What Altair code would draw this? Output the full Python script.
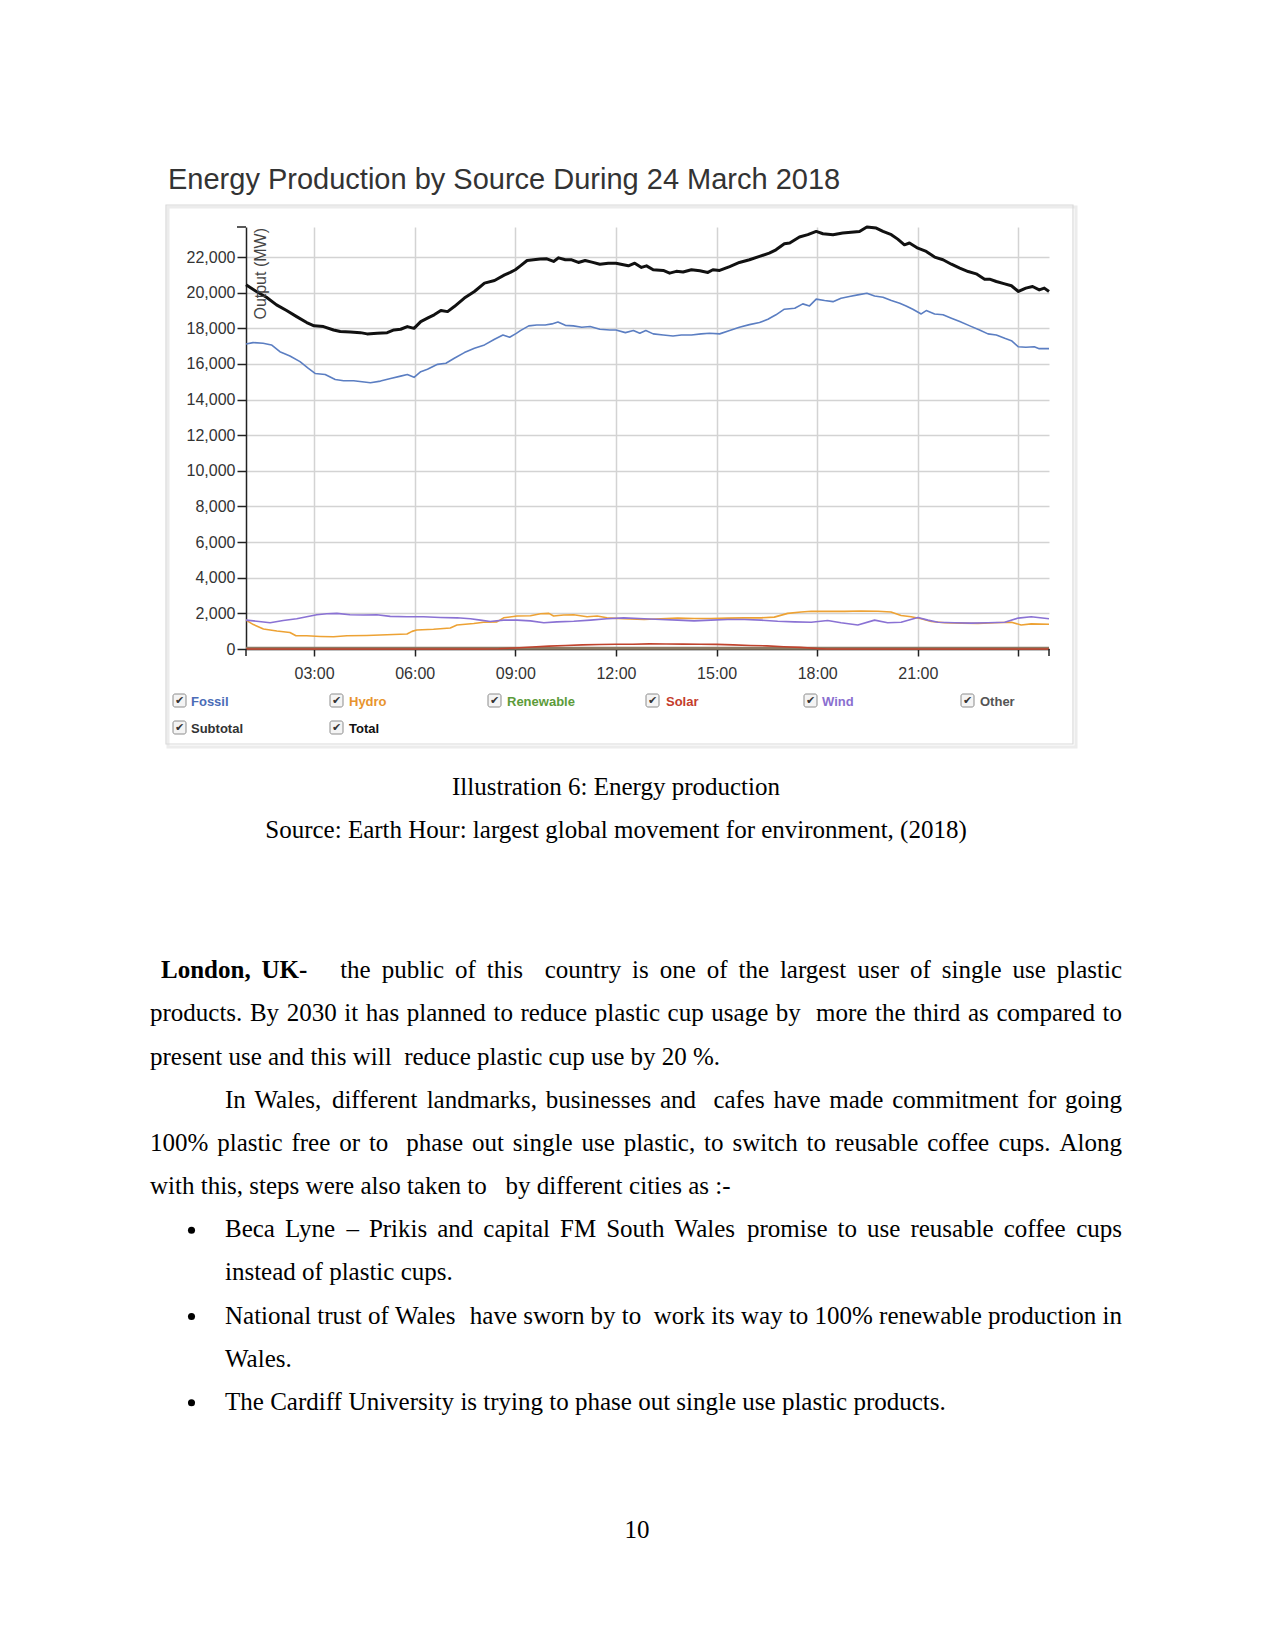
import altair as alt
import pandas as pd

# ------------------------------------------------------------------ data
total_h = [0.97,1.28,1.58,1.88,2.18,2.48,2.78,3.00,3.28,3.58,3.78,4.08,4.38,4.58,4.88,5.18,5.38,5.58,5.78,5.98,6.18,6.38,6.58,6.78,6.98,7.18,7.48,7.78,8.08,8.38,8.68,8.85,9.00,9.15,9.35,9.54,9.74,9.94,10.14,10.29,10.49,10.68,10.88,11.08,11.28,11.52,11.77,12.00,12.22,12.37,12.56,12.76,12.91,13.11,13.41,13.60,13.80,14.00,14.25,14.50,14.74,14.89,15.09,15.39,15.68,15.98,16.28,16.57,16.77,17.02,17.18,17.47,17.72,17.97,18.17,18.47,18.76,19.01,19.26,19.48,19.76,19.96,20.21,20.40,20.60,20.75,21.00,21.25,21.50,21.75,22.00,22.25,22.50,22.74,22.99,23.14,23.34,23.59,23.79,24.00,24.22,24.42,24.62,24.77,24.91]
total_v = [20444,20070,19750,19320,19000,18660,18325,18140,18100,17910,17820,17800,17760,17690,17725,17760,17910,17950,18100,18000,18380,18570,18760,19000,18940,19225,19700,20070,20540,20690,21000,21140,21290,21510,21810,21850,21890,21905,21755,21960,21850,21850,21700,21810,21720,21600,21660,21660,21570,21510,21660,21420,21510,21290,21250,21100,21200,21160,21290,21230,21140,21290,21250,21470,21700,21850,22040,22220,22410,22750,22790,23125,23260,23440,23310,23260,23350,23400,23440,23690,23630,23440,23260,23010,22690,22790,22500,22320,22000,21850,21600,21380,21190,21060,20760,20760,20630,20500,20390,20070,20260,20350,20160,20260,20070]

fossil_h = [0.97,1.18,1.48,1.73,1.98,2.28,2.58,2.83,3.03,3.33,3.63,3.88,4.18,4.43,4.68,4.98,5.28,5.58,5.78,5.98,6.18,6.38,6.68,6.93,7.18,7.48,7.78,8.08,8.38,8.63,8.83,9.03,9.15,9.40,9.64,9.89,10.09,10.27,10.49,10.73,10.98,11.23,11.52,11.82,12.00,12.28,12.52,12.71,12.89,13.11,13.41,13.70,13.95,14.25,14.54,14.79,15.09,15.39,15.68,15.98,16.28,16.53,16.77,17.02,17.33,17.57,17.77,17.97,18.22,18.47,18.71,18.96,19.21,19.48,19.71,19.96,20.21,20.46,20.65,20.85,21.10,21.25,21.50,21.75,22.00,22.25,22.55,22.84,23.09,23.34,23.59,23.79,23.99,24.22,24.47,24.62,24.91]
fossil_v = [17125,17200,17160,17070,16690,16450,16130,15750,15470,15410,15130,15060,15060,15000,14950,15040,15190,15320,15410,15250,15570,15700,15980,16040,16320,16640,16880,17070,17390,17630,17500,17720,17875,18140,18190,18190,18250,18360,18170,18140,18060,18100,17950,17910,17910,17760,17875,17725,17875,17690,17630,17575,17630,17630,17690,17725,17690,17875,18060,18210,18325,18510,18760,19075,19130,19375,19260,19640,19560,19500,19690,19790,19880,19975,19820,19750,19560,19410,19260,19075,18810,19000,18810,18760,18570,18380,18140,17910,17690,17630,17440,17310,16970,16940,16970,16860,16860]

wind_h = [0.97,1.29,1.69,2.08,2.48,2.78,3.08,3.38,3.68,4.07,4.47,4.87,5.27,5.77,6.26,6.76,7.26,7.66,7.96,8.25,8.65,9.05,9.45,9.85,10.24,10.74,11.24,11.73,12.23,12.84,13.34,13.84,14.33,14.83,15.33,15.83,16.33,16.82,17.32,17.82,18.31,18.71,19.21,19.71,20.10,20.50,21.00,21.30,21.60,22.09,22.59,23.09,23.59,23.99,24.38,24.91]
wind_v = [1620,1560,1470,1600,1695,1810,1925,1980,2000,1925,1905,1925,1830,1810,1810,1770,1750,1695,1620,1545,1620,1620,1580,1470,1525,1560,1620,1695,1750,1695,1660,1620,1580,1620,1660,1660,1620,1560,1525,1505,1600,1470,1350,1620,1470,1505,1770,1620,1505,1470,1450,1470,1505,1735,1810,1695]

hydro_h = [0.97,1.19,1.49,1.89,2.28,2.46,2.78,3.18,3.58,3.98,4.57,5.17,5.77,5.92,6.06,6.56,7.06,7.26,7.76,8.05,8.45,8.65,9.05,9.45,9.75,10.00,10.14,10.44,10.74,11.14,11.44,11.73,12.23,12.84,13.34,13.84,14.33,14.83,15.33,15.83,16.33,16.72,17.12,17.52,17.82,18.31,18.81,19.31,19.81,20.20,20.50,20.80,21.10,21.40,21.80,22.29,22.79,23.29,23.79,24.08,24.38,24.91]
hydro_v = [1620,1370,1125,1010,930,740,740,705,685,740,760,800,840,990,1065,1105,1180,1350,1430,1505,1525,1750,1850,1865,1980,2000,1850,1905,1925,1810,1850,1750,1695,1660,1695,1735,1715,1715,1735,1750,1750,1790,2000,2080,2115,2115,2115,2135,2115,2080,1885,1810,1695,1545,1470,1450,1430,1470,1505,1350,1410,1390]

solar_h = [0.97,8.0,8.5,9.0,9.5,10.0,10.5,11.0,11.5,12.0,12.5,13.0,13.5,14.0,14.5,15.0,15.5,16.0,16.5,17.0,17.5,18.0,18.3,24.91]
solar_v = [0,0,10,60,110,160,200,230,250,265,270,285,280,275,270,260,230,200,175,130,90,30,0,0]

other_h = [0.97,6.0,12.0,18.0,24.91]
other_v = [40,40,40,40,40]

x_ticks = [3, 6, 9, 12, 15, 18, 21, 24]
y_ticks = [0, 2000, 4000, 6000, 8000, 10000, 12000, 14000, 16000, 18000, 20000, 22000]

legend_names = ["Fossil", "Hydro", "Renewable", "Solar", "Wind", "Other", "Subtotal", "Total"]
legend_colors = ["#4b6cb7", "#e8942e", "#5c9b3a", "#c43c2c", "#8a6fd0", "#555555", "#333333", "#111111"]

title_text = "Energy Production by Source During 24 March 2018"
caption_lines = ["Illustration 6: Energy production",
                 "Source: Earth Hour: largest global movement for environment, (2018)"]
body_lines = [
    "London, UK-   the public of this  country is one of the largest user of single use plastic",
    "products. By 2030 it has planned to reduce plastic cup usage by  more the third as compared to",
    "present use and this will  reduce plastic cup use by 20 %.",
    "In Wales, different landmarks, businesses and  cafes have made commitment for going",
    "100% plastic free or to  phase out single use plastic, to switch to reusable coffee cups. Along",
    "with this, steps were also taken to   by different cities as :-",
    "Beca Lyne \u2013 Prikis and capital FM South Wales promise to use reusable coffee cups",
    "instead of plastic cups.",
    "National trust of Wales  have sworn by to  work its way to 100% renewable production in",
    "Wales.",
    "The Cardiff University is trying to phase out single use plastic products.",
]
body_justify = [True, True, False, True, True, False, True, False, True, False, False]
body_bold_tokens = [2, 0, 0, 0, 0, 0, 0, 0, 0, 0, 0]
body_bullet = [False, False, False, False, False, False, True, False, True, False, True]
page_number = "10"

# ------------------------------------------------------------------ layout
X0, Y0 = 246, 227          # page position of plot origin
W, H = 803, 422            # plot area
BODY_LEFT = [161, 150, 150, 225, 150, 150, 225, 225, 225, 225, 225]
BODY_RIGHT = 1122
BODY_Y = [971.3, 1014.4, 1057.6, 1100.7, 1143.9, 1187.0, 1230.2, 1273.3, 1316.5, 1359.6, 1402.7]
FS = 25

TR = dict(zip("ABCDEFGHIJKLMNOPQRSTUVWXYZ",
              [722,667,667,722,611,556,722,722,333,389,722,611,889,722,722,556,722,667,556,611,722,722,944,722,722,611]))
TR.update(zip("abcdefghijklmnopqrstuvwxyz",
              [444,500,444,500,444,333,500,500,278,278,500,278,778,500,500,500,500,333,389,278,500,500,722,500,500,444]))
TR.update({d: 500 for d in "0123456789"})
TR.update({",": 250, ".": 250, ":": 278, ";": 278, "-": 333, "%": 833, "(": 333, ")": 333, "\u2013": 500, " ": 250})
TB = dict(TR)
TB.update({"L": 667, "o": 500, "n": 556, "d": 556, "U": 722, "K": 778})


def tw(s, table):
    return sum(table.get(c, 500) for c in s) * FS / 1000.0


rows = []
bullets = []
for i, line in enumerate(body_lines):
    toks = line.split(" ")
    nb = body_bold_tokens[i]
    widths = [tw(t, TB if j < nb else TR) for j, t in enumerate(toks)]
    left = BODY_LEFT[i]
    if body_justify[i]:
        slot = (BODY_RIGHT - left - sum(widths)) / (len(toks) - 1)
    else:
        slot = 0.25 * FS
    x = left
    base = BODY_Y[i] + 7
    for j, t in enumerate(toks):
        if t:
            rows.append({"px": x - X0, "py": base - Y0, "word": t, "bold": j < nb})
        x += widths[j] + slot
    if body_bullet[i]:
        bullets.append({"px": 191.5 - X0, "py": BODY_Y[i] - Y0})
words = pd.DataFrame(rows)
bullet_df = pd.DataFrame(bullets)

# ------------------------------------------------------------------ chart
series = [("Other", other_h, other_v, "#8c7a63", 3.0),
          ("Solar", solar_h, solar_v, "#c0432d", 1.6),
          ("Hydro", hydro_h, hydro_v, "#eda234", 1.6),
          ("Wind", wind_h, wind_v, "#8a72d4", 1.6),
          ("Fossil", fossil_h, fossil_v, "#5b7ec2", 1.6),
          ("Total", total_h, total_v, "#111111", 3.0)]
frames = []
for name, hs, vs, _, _ in series:
    frames.append(pd.DataFrame({"hour": hs, "value": vs, "series": name}))
df = pd.concat(frames, ignore_index=True)

grid_kw = dict(grid=True, gridColor="#d3d3d3", gridWidth=1.5, domainColor="#222222", domainWidth=1.5,
               tickColor="#222222", tickWidth=1.5, labelFont="Liberation Sans", labelFontSize=16,
               labelColor="#333333", title=None, labelOverlap=False)
xaxis = alt.Axis(values=x_ticks, tickSize=7, labelPadding=9, labelFlush=False,
                 labelExpr="datum.value == 24 ? '' : ((datum.value < 10 ? '0' : '') + datum.value + ':00')",
                 **grid_kw)
yaxis = alt.Axis(values=y_ticks, format=",d", tickSize=9, labelPadding=2, **grid_kw)
xs = alt.Scale(domain=[0.97, 24.91], nice=False, zero=False)
ys = alt.Scale(domain=[0, 23690], nice=False)

base = alt.Chart(df).encode(x=alt.X("hour:Q", scale=xs, axis=xaxis),
                            y=alt.Y("value:Q", scale=ys, axis=yaxis))
line_layers = []
for name, _, _, col, sw in series:
    line_layers.append(base.transform_filter(alt.datum.series == name)
                       .mark_line(color=col, strokeWidth=sw, strokeJoin="round"))

one = pd.DataFrame({"a": [0]})
frame_shadow = alt.Chart(one).mark_rect(fillOpacity=0, stroke="#ececec", strokeWidth=3).encode(
    x=alt.value(168 - X0), x2=alt.value(1076 - X0), y=alt.value(207 - Y0), y2=alt.value(747 - Y0))
frame = alt.Chart(one).mark_rect(fillOpacity=0, stroke="#dadada", strokeWidth=1.2).encode(
    x=alt.value(166 - X0), x2=alt.value(1073 - X0), y=alt.value(205 - Y0), y2=alt.value(744 - Y0))

title = alt.Chart(one).mark_text(text=title_text, align="left", baseline="alphabetic", font="Liberation Sans",
                                 fontSize=29, color="#333333").encode(x=alt.value(168 - X0), y=alt.value(189 - Y0))
ytitle = alt.Chart(one).mark_text(text="Output (MW)", angle=270, align="right", baseline="middle",
                                  font="Liberation Sans", fontSize=16, color="#444444").encode(
    x=alt.value(15), y=alt.value(1))
outer_ticks = [
    alt.Chart(one).mark_rule(color="#222222", strokeWidth=1.5).encode(x=alt.value(-9), x2=alt.value(0), y=alt.value(0)),
    alt.Chart(one).mark_rule(color="#222222", strokeWidth=1.5).encode(x=alt.value(0), y=alt.value(H), y2=alt.value(H + 7)),
    alt.Chart(one).mark_rule(color="#222222", strokeWidth=1.5).encode(x=alt.value(W), y=alt.value(H), y2=alt.value(H + 7)),
]

# legend (checkbox list)
box_x = [173, 330, 488, 646, 804, 961, 173, 330]
lab_x = [191, 349, 507, 666, 822, 980, 191, 349]
row_y = [702, 702, 702, 702, 702, 702, 729, 729]
leg = pd.DataFrame({
    "name": legend_names, "color": legend_colors,
    "bx": [b - X0 for b in box_x], "bx2": [b + 13 - X0 for b in box_x],
    "by": [r - 8 - Y0 for r in row_y], "by2": [r + 5 - Y0 for r in row_y],
    "cx": [b + 6.5 - X0 for b in box_x], "cy": [r - 1.5 - Y0 for r in row_y],
    "lx": [l - X0 for l in lab_x], "ly": [r - Y0 for r in row_y],
})
leg_box = alt.Chart(leg).mark_rect(fill="#f4f4f4", stroke="#8c8c8c", strokeWidth=1, cornerRadius=2).encode(
    x=alt.X("bx:Q", scale=None, axis=None), x2="bx2:Q", y=alt.Y("by:Q", scale=None, axis=None), y2="by2:Q")
leg_check = alt.Chart(leg).mark_text(text="\u2714", font="DejaVu Sans", fontSize=11, color="#333333",
                                     align="center", baseline="middle").encode(
    x=alt.X("cx:Q", scale=None, axis=None), y=alt.Y("cy:Q", scale=None, axis=None))
leg_lab = alt.Chart(leg).mark_text(font="Liberation Sans", fontSize=13, fontWeight="bold", align="left",
                                   baseline="middle").encode(
    x=alt.X("lx:Q", scale=None, axis=None), y=alt.Y("ly:Q", scale=None, axis=None),
    text="name:N", color=alt.Color("color:N", scale=None))

# captions and body text
caps = [alt.Chart(one).mark_text(text=t, align="center", baseline="alphabetic", font="Liberation Serif",
                                 fontSize=FS, color="black").encode(x=alt.value(616 - X0), y=alt.value(yy - Y0))
        for t, yy in zip(caption_lines, [795, 838])]
pnum = alt.Chart(one).mark_text(text=page_number, align="center", baseline="alphabetic", font="Liberation Serif",
                                fontSize=FS, color="black").encode(x=alt.value(637 - X0), y=alt.value(1538 - Y0))
wenc = dict(x=alt.X("px:Q", scale=None, axis=None), y=alt.Y("py:Q", scale=None, axis=None), text="word:N")
body_n = alt.Chart(words).transform_filter("!datum.bold").mark_text(
    align="left", baseline="alphabetic", font="Liberation Serif", fontSize=FS, color="black").encode(**wenc)
body_b = alt.Chart(words).transform_filter("datum.bold").mark_text(
    align="left", baseline="alphabetic", font="Liberation Serif", fontSize=FS, fontWeight="bold",
    color="black").encode(**wenc)
bullet_marks = alt.Chart(bullet_df).mark_circle(size=50, color="black", opacity=1).encode(
    x=alt.X("px:Q", scale=None, axis=None), y=alt.Y("py:Q", scale=None, axis=None))

chart = alt.layer(
    frame_shadow, frame, *line_layers, *outer_ticks, title, ytitle, leg_box, leg_check, leg_lab,
    *caps, body_n, body_b, bullet_marks, pnum
).properties(
    width=W, height=H,
    autosize=alt.AutoSizeParams(type="none"),
    padding={"left": X0 - 8, "top": Y0 - 8, "right": 1259 - (X0 - 8) - W, "bottom": 1618 - (Y0 - 8) - H},
).configure_view(stroke=None)

chart.save("out.html", embed_options={"renderer": "svg", "actions": False})
